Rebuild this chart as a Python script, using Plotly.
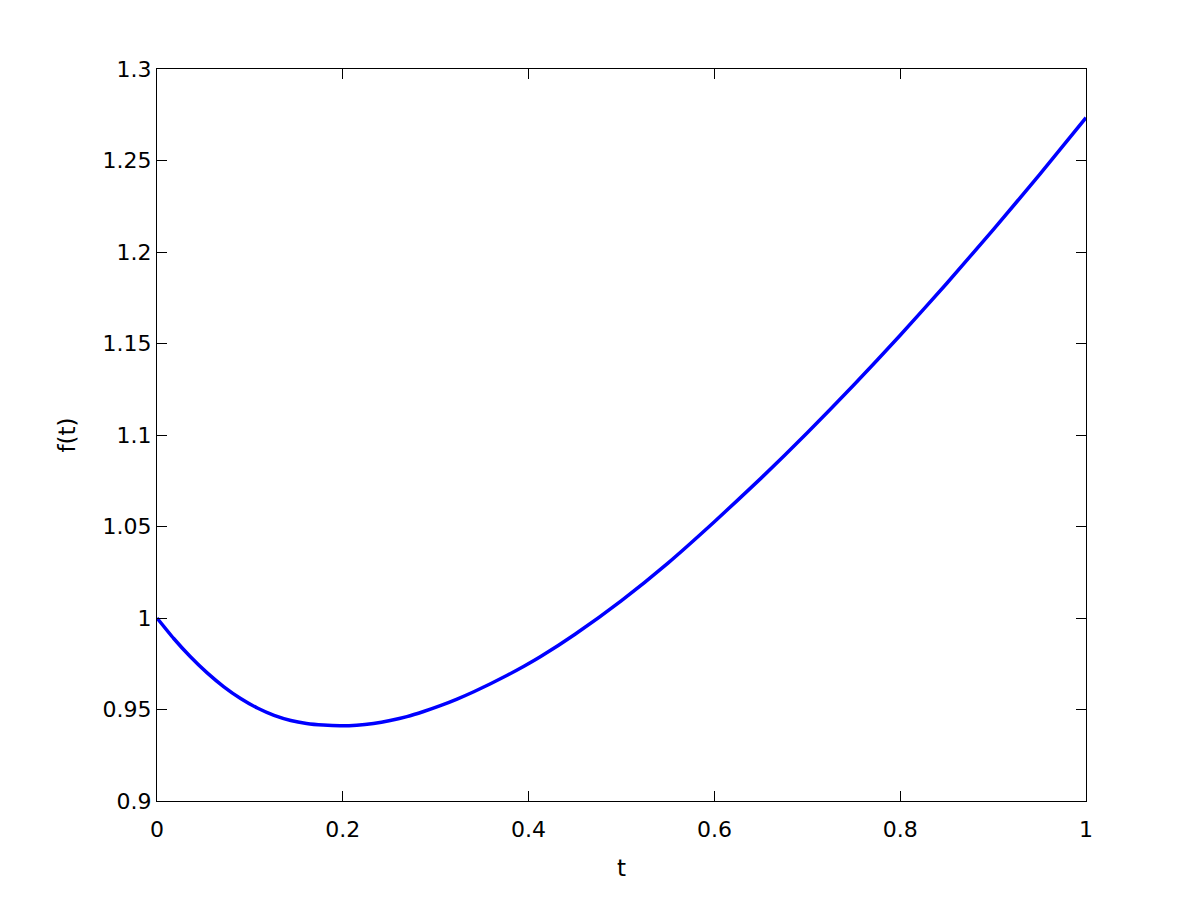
import plotly.graph_objects as go

# values
t_vals = [0, 0.018, 0.036, 0.054, 0.072, 0.09, 0.108, 0.126, 0.144, 0.161,
          0.179, 0.197, 0.215, 0.233, 0.251, 0.269, 0.287, 0.305, 0.323, 0.341,
          0.359, 0.377, 0.395, 0.413, 0.45, 0.5, 0.55, 0.6, 0.65, 0.7,
          0.75, 0.8, 0.85, 0.9, 0.95, 1.0]
f_vals = [1.0, 0.9888, 0.9788, 0.9700, 0.9624, 0.9560, 0.9508, 0.9468, 0.9440, 0.9424,
          0.9415, 0.9411, 0.9414, 0.9424, 0.9440, 0.9461, 0.9489, 0.9521, 0.9557, 0.9597,
          0.9641, 0.9687, 0.9736, 0.9789, 0.9911, 1.0095, 1.0300, 1.0526, 1.0763, 1.1012,
          1.1273, 1.1545, 1.1828, 1.2121, 1.2423, 1.2734]

x_ticks = [0, 0.2, 0.4, 0.6, 0.8, 1]
x_labels = ['0', '0.2', '0.4', '0.6', '0.8', '1']
y_ticks = [0.9, 0.95, 1.0, 1.05, 1.1, 1.15, 1.2, 1.25, 1.3]
y_labels = ['0.9', '0.95', '1', '1.05', '1.1', '1.15', '1.2', '1.25', '1.3']

fig = go.Figure()
fig.add_trace(go.Scatter(
    x=t_vals, y=f_vals,
    mode='lines',
    line=dict(width=3.5, color='#0000ff', shape='spline', smoothing=0.5),
    showlegend=False
))

axis_style = dict(
    showgrid=False, zeroline=False,
    showline=True, linecolor='black', linewidth=1,
    mirror='ticks', ticks='inside', ticklen=10, tickwidth=1, tickcolor='black',
    tickfont=dict(size=22, color='black')
)

fig.update_xaxes(range=[0, 1], tickvals=x_ticks, ticktext=x_labels,
                 ticklabelstandoff=9,
                 title=dict(text='t', font=dict(size=23, color='black'), standoff=18),
                 **axis_style)
fig.update_yaxes(range=[0.9, 1.3], tickvals=y_ticks, ticktext=y_labels,
                 title=dict(text='f(t)', font=dict(size=23, color='black'), standoff=20),
                 **axis_style)

# page body adds 8px, so margins are shifted to keep the axes where they are
fig.update_layout(
    width=1200, height=900,
    margin=dict(l=149, r=122, t=61, b=107),
    plot_bgcolor='white',
    paper_bgcolor='white',
    font=dict(family='DejaVu Sans, Arial, sans-serif', color='black')
)

fig.write_html("out.html")
